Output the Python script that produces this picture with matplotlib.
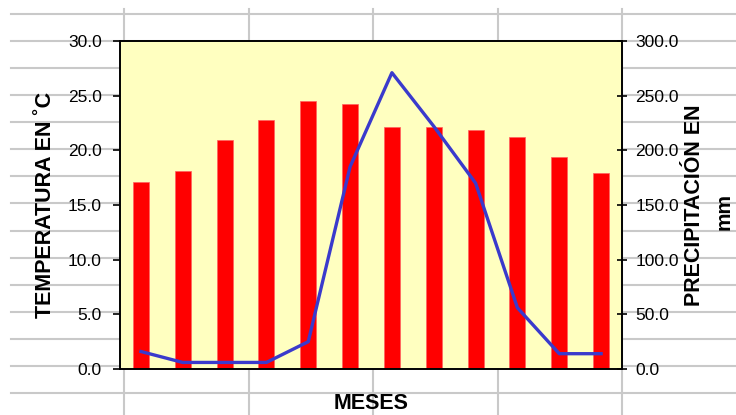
import matplotlib
matplotlib.use("Agg")
import matplotlib.pyplot as plt
from matplotlib.lines import Line2D

# ---- data ----
months = ["Ene", "Feb", "Mar", "Abr", "May", "Jun", "Jul", "Ago", "Sep", "Oct", "Nov", "Dic"]
temperature = [17.1, 18.1, 20.9, 22.8, 24.5, 24.2, 22.1, 22.1, 21.9, 21.2, 19.4, 17.9]
precipitation = [16, 6, 6, 6, 25, 185, 271, 222, 170, 56, 14, 14]
temp_ticks = [0, 5, 10, 15, 20, 25, 30]
prec_ticks = [0, 50, 100, 150, 200, 250, 300]

W, H = 736, 415
plt.rcParams['font.family'] = ['Liberation Sans', 'DejaVu Sans']
fig = plt.figure(figsize=(W / 100, H / 100), dpi=100)
fig.patch.set_facecolor('white')

# spreadsheet grid in background
gcol = '#c9c9c9'
for k in range(15):
    y = 14 + 27.07 * k
    fig.add_artist(Line2D([11 / W, 1], [1 - y / H, 1 - y / H], transform=fig.transFigure,
                          color=gcol, lw=1.5, zorder=-5))
for k in range(5):
    x = 124 + 124.5 * k
    fig.add_artist(Line2D([x / W, x / W], [0, 1 - 9 / H], transform=fig.transFigure,
                          color=gcol, lw=1.5, zorder=-5))

left, right, top, bottom = 120, 622, 41, 369
ax = fig.add_axes([left / W, 1 - bottom / H, (right - left) / W, (bottom - top) / H])
ax.set_facecolor('#ffffc0')
x = list(range(len(months)))
ax.bar(x, temperature, width=0.38, color='#ff0000', edgecolor='#ff6060', linewidth=0.5, zorder=2)
ax.set_xlim(-0.5, len(months) - 0.5)
ax.set_ylim(0, 30)
ax.set_yticks(temp_ticks)
ax.set_yticklabels([f"{v:.1f}" for v in temp_ticks])
ax.set_xticks([])
ax.tick_params(axis='y', direction='out', length=5, width=1.2, pad=8, labelsize=12.5, colors='black')
for s in ax.spines.values():
    s.set_color('black')
    s.set_linewidth(1.2)

ax2 = ax.twinx()
ax2.plot(x, precipitation, color='#3a3acc', lw=2.4, zorder=3, solid_joinstyle='round')
ax2.set_ylim(0, 300)
ax2.set_yticks(prec_ticks)
ax2.set_yticklabels([f"{v:.1f}" for v in prec_ticks])
ax2.tick_params(axis='y', direction='inout', length=7, width=1.2, pad=6, labelsize=12.5, colors='black')
for s in ax2.spines.values():
    s.set_color('black')
    s.set_linewidth(1.2)

# axis titles
fig.text(45.6 / W, 1 - 205 / H, "TEMPERATURA EN ˚C", rotation=90, ha='center', va='center',
         fontsize=15.5, fontweight='bold')
fig.text(695 / W, 1 - 205 / H, "PRECIPITACIÓN EN", rotation=90, ha='center', va='center',
         fontsize=15.5, fontweight='bold')
fig.text(724 / W, 1 - 211 / H, "mm", rotation=90, ha='center', va='center',
         fontsize=15, fontweight='bold')
fig.text(371 / W, 1 - 403 / H, "MESES", ha='center', va='center', fontsize=15.5, fontweight='bold')

fig.savefig("out.png", dpi=100)
